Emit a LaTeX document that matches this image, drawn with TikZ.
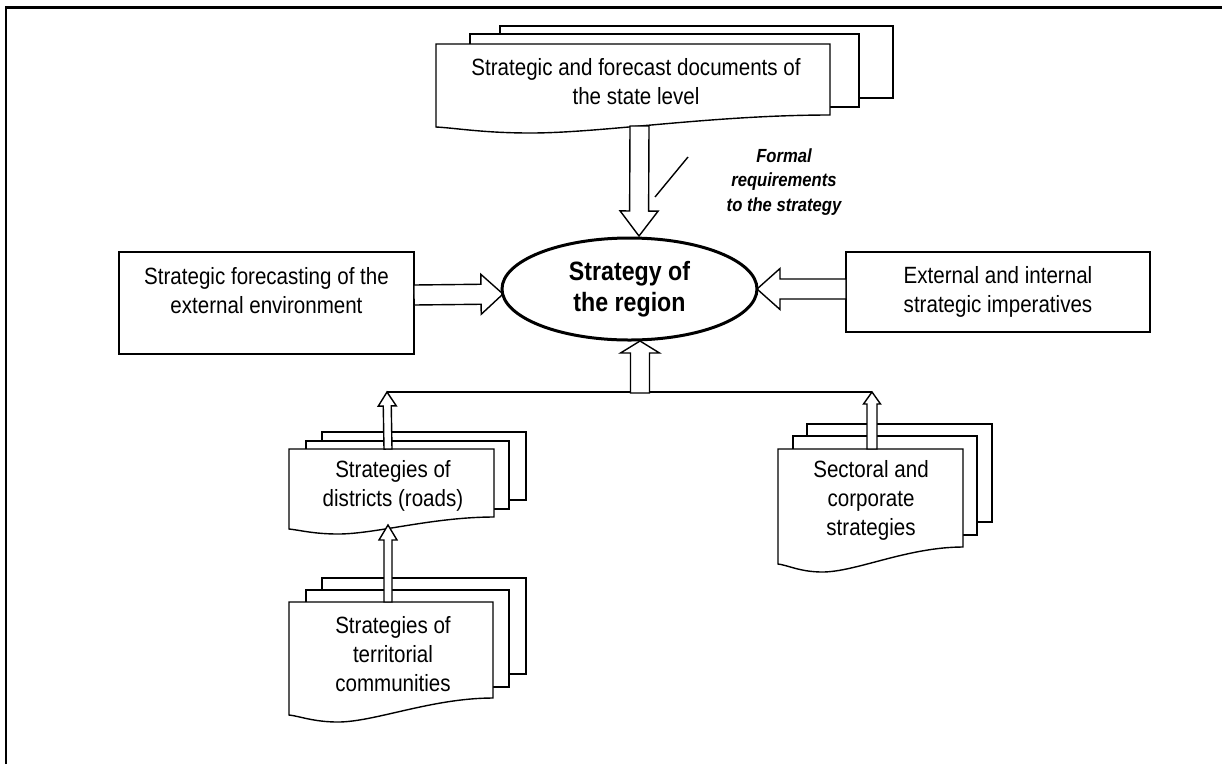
\documentclass[tikz,border=0pt]{standalone}
\usepackage{fontspec}
\setmainfont{Liberation Sans}[FakeStretch=0.875]
\usetikzlibrary{calc,shapes.geometric}
\tikzset{
  boxline/.style={draw=black,line width=1.4pt,fill=white},
  arrowline/.style={draw=black,line width=1.4pt,fill=white,line join=miter},
  normaltext/.style={font=\fontsize{23.5}{29}\selectfont,align=center,inner sep=0pt},
  boldtext/.style={font=\bfseries\fontsize{26.5}{31}\selectfont,align=center,inner sep=0pt},
  notetext/.style={font=\bfseries\itshape\fontsize{19}{24.5}\selectfont,align=center,inner sep=0pt},
}
% back page: l t r b
\newcommand\backpage[4]{\filldraw[boxline] (#1,#2) rectangle (#3,#4);}
% front document page: l t r rb lb low
\newcommand\frontpage[6]{\filldraw[boxline] (#1,#2) -- (#3,#2) -- (#3,#4)
  .. controls ({#3-0.3*(#3-#1)},#4) and ({#1+0.42*(#3-#1)},#6) .. ({#1+0.24*(#3-#1)},#6)
  .. controls ({#1+0.12*(#3-#1)},#6) and ({#1+0.05*(#3-#1)},{#5+1}) .. (#1,#5) -- cycle;}
% hollow arrow: start, tip, half shaft, half head, head length
\newcommand\hollowarrow[5]{%
  \coordinate (ha-base) at ($(#2)!#5!(#1)$);
  \filldraw[arrowline] ($(#1)!#3!90:(#2)$) -- ($(ha-base)!#3!90:(#2)$) -- ($(ha-base)!#4!90:(#2)$)
   -- (#2) -- ($(ha-base)!#4!-90:(#2)$) -- ($(ha-base)!#3!-90:(#2)$) -- ($(#1)!#3!-90:(#2)$) -- cycle;}
\begin{document}
\begin{tikzpicture}[x=1pt,y=-1pt]
\useasboundingbox (0,0) rectangle (1222,764);
% frame
\draw[line width=2.2pt] (6,764) -- (6,7.5) -- (1222,7.5);

% top document stack
\backpage{500}{26}{893}{98}
\backpage{470}{34}{859}{107}
\frontpage{436}{44}{830}{115}{127}{133}
\node[normaltext] (topdoc) at (636,82) {Strategic and forecast documents of\\the state level};
\coordinate (topdoc-b) at (639.5,126);

% district stack
\backpage{322}{432}{526}{500}
\backpage{306}{441}{509}{509}
\frontpage{289}{449}{494}{517}{529}{534}
\node[normaltext] (distr) at (393,486) {Strategies of\\districts (roads)};
\coordinate (distr-t) at (388,449);
\coordinate (distr-b) at (388,525);

% territorial stack
\backpage{322}{578}{526}{674}
\backpage{306}{590}{509}{687}
\frontpage{289}{602}{493}{698}{715}{722}
\node[normaltext] (terr) at (393,654) {Strategies of\\territorial\\communities};
\coordinate (terr-t) at (388,602);

% sectoral stack
\backpage{807}{424}{992}{522}
\backpage{793}{436}{977}{535}
\frontpage{778}{449}{963}{547}{564}{572}
\node[normaltext] (sect) at (871,500) {Sectoral and\\corporate\\strategies};
\coordinate (sect-t) at (872,449);

% side boxes
\node[boxline,minimum width=295pt,minimum height=102pt,inner sep=0pt] (lbox) at (266.5,303) {};
\node[normaltext] (ltext) at (266.5,291) {Strategic forecasting of the\\external environment};
\node[boxline,normaltext,minimum width=304pt,minimum height=80pt] (rbox) at (998,292) {External and internal\\strategic imperatives};

% junction line
\coordinate (jl) at (387,392);
\coordinate (jr) at (872,392);
\coordinate (jm) at (640,393);
\draw[line width=1.4pt] (jl) -- (jr);

% arrow end points on the ellipse
\coordinate (ell-t) at (639,236);
\coordinate (ell-l) at (503,294);
\coordinate (ell-r) at (757,289);
\coordinate (ell-b) at (640,341);
\coordinate (lbox-a) at (414,295);
\coordinate (rbox-a) at (846,289);

% arrows
\hollowarrow{topdoc-b}{ell-t}{9.5pt}{19pt}{25pt}
\hollowarrow{lbox-a}{ell-l}{10pt}{20pt}{22pt}
\hollowarrow{rbox-a}{ell-r}{10pt}{20.5pt}{23pt}
\hollowarrow{jm}{ell-b}{9.5pt}{19.5pt}{12pt}
\hollowarrow{distr-t}{jl}{4pt}{9pt}{14pt}
\hollowarrow{terr-t}{distr-b}{4pt}{9pt}{15pt}
\hollowarrow{sect-t}{jr}{5pt}{8.5pt}{12pt}

% central ellipse
\node[ellipse,draw=black,line width=3pt,fill=white,minimum width=255pt,minimum height=102pt,inner sep=0pt,boldtext] (ell) at (629.5,289) {Strategy of\\the region};

% note
\coordinate (n1) at (688,157);
\coordinate (n2) at (655,197);
\draw[line width=1.4pt] (n1) -- (n2);
\node[notetext] (note) at (784,182) {Formal\\requirements\\to the strategy};
\end{tikzpicture}
\end{document}
